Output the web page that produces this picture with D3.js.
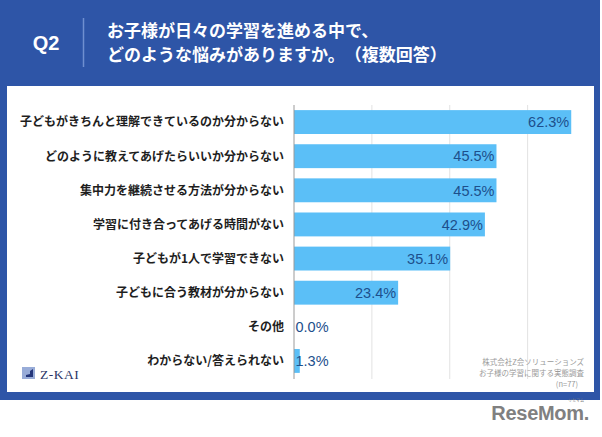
<!DOCTYPE html>
<html><head><meta charset="utf-8">
<script src="https://cdn.jsdelivr.net/npm/d3@7"></script>
<style>
html,body{margin:0;padding:0;background:#fff;}
svg{display:block;}
svg text{text-spacing-trim:space-all;font-feature-settings:normal;}
</style>
</head><body>
<script>
const categories = [
  "子どもがきちんと理解できているのか分からない",
  "どのように教えてあげたらいいか分からない",
  "集中力を継続させる方法が分からない",
  "学習に付き合ってあげる時間がない",
  "子どもが1人で学習できない",
  "子どもに合う教材が分からない",
  "その他",
  "わからない/答えられない"
];
const values = [62.3, 45.5, 45.5, 42.9, 35.1, 23.4, 0.0, 1.3];
const gridTicks = [17.5, 35, 52.5];
const titleLines = ["お子様が日々の学習を進める中で、", "どのような悩みがありますか。（複数回答）"];
const noteLines = ["株式会社Z会ソリューションズ", "お子様の学習に関する実態調査", "(n=77)"];

const W = 602, H = 437;
const jp = "'Noto Sans CJK JP','Noto Sans',sans-serif";
const svg = d3.select("body").append("svg").attr("width", W).attr("height", H);

// backgrounds
svg.append("rect").attr("x",0).attr("y",0).attr("width",W).attr("height",H).attr("fill","#fff");
svg.append("rect").attr("x",0).attr("y",0).attr("width",600).attr("height",400).attr("fill","#2e55a7");
svg.append("rect").attr("x",7).attr("y",86).attr("width",587).attr("height",306).attr("fill","#fff");

// header
svg.append("text").attr("x",46).attr("y",50).attr("text-anchor","middle")
  .attr("font-family","'Liberation Sans',Arial,sans-serif").attr("font-weight","bold")
  .attr("font-size",20).attr("fill","#fff").text("Q2");
svg.append("line").attr("x1",83.5).attr("x2",83.5).attr("y1",18).attr("y2",67)
  .attr("stroke","#6f8fd0").attr("stroke-width",1.5);
svg.selectAll("text.title").data(titleLines).join("text").attr("class","title")
  .attr("x",107).attr("y",(d,i)=>37+i*24)
  .attr("font-family",jp).attr("font-weight","bold").attr("font-size",17)
  .attr("fill","#fff").text(d=>d);

// scales
const x = d3.scaleLinear().domain([0,70]).range([294, 294+70*4.45]);
const y = d3.scaleBand().domain(categories).range([105,378]).paddingInner(0.3).paddingOuter(0.15);

// gridlines
svg.selectAll("line.grid").data(gridTicks).join("line").attr("class","grid")
  .attr("x1",d=>x(d)).attr("x2",d=>x(d)).attr("y1",105).attr("y2",379)
  .attr("stroke","#e2e2e2").attr("stroke-width",1);

// bars
const data = categories.map((c,i)=>({c, v: values[i]}));
svg.selectAll("rect.bar").data(data).join("rect").attr("class","bar")
  .attr("x",x(0)).attr("y",d=>y(d.c)).attr("width",d=>x(d.v)-x(0))
  .attr("height",y.bandwidth()).attr("fill","#5bbff7");

// axis line
svg.append("line").attr("x1",x(0)).attr("x2",x(0)).attr("y1",105).attr("y2",379)
  .attr("stroke","#9a9a9a").attr("stroke-width",1);

// category labels
svg.selectAll("text.cat").data(data).join("text").attr("class","cat")
  .attr("x",284).attr("y",d=>y(d.c)+y.bandwidth()/2).attr("dy","0.36em")
  .attr("text-anchor","end").attr("font-family",jp).attr("font-weight","bold")
  .attr("font-size",12).attr("fill","#1e1e1e").text(d=>d.c);

// value labels
svg.selectAll("text.val").data(data).join("text").attr("class","val")
  .attr("x",d=>d.v>=10 ? x(d.v)-2 : x(0)+1.5)
  .attr("y",d=>y(d.c)+y.bandwidth()/2).attr("dy","0.36em")
  .attr("text-anchor",d=>d.v>=10?"end":"start")
  .attr("font-family","'Liberation Sans',Arial,sans-serif")
  .attr("font-size",14.5).attr("fill","#1d4f8c").text(d=>d.v.toFixed(1)+"%");

// note
svg.selectAll("text.note").data(noteLines).join("text").attr("class","note")
  .attr("x",(d,i)=>i===2?578:584).attr("y",(d,i)=>365+i*11)
  .attr("text-anchor","end").attr("font-family",jp).attr("font-size",7.5)
  .attr("fill","#9a9a9a").text(d=>d);

// Z-KAI logo
svg.append("rect").attr("x",22).attr("y",367).attr("width",13).attr("height",12).attr("fill","#98acd8");
svg.append("path").attr("d","M26,377 L33,377 L33,369 L30,371 L30,374 L26,375 Z").attr("fill","#23357a");
svg.append("text").attr("x",40).attr("y",378.5)
  .attr("font-family","'Liberation Serif','DejaVu Serif',serif").attr("font-size",13.5)
  .attr("fill","#2b3566").attr("letter-spacing",0.5).text("Z-KAI");

// ReseMom logo
svg.append("text").attr("x",589).attr("y",420).attr("text-anchor","end")
  .attr("font-family","'Liberation Sans',Arial,sans-serif").attr("font-weight","bold")
  .attr("font-size",20).attr("fill","#808080").attr("letter-spacing",-0.3).text("ReseMom.");
svg.append("text").attr("x",576).attr("y",401.5).attr("text-anchor","middle")
  .attr("font-family",jp).attr("font-size",4).attr("fill","#808080").text("リセマム");
</script>
</body></html>
